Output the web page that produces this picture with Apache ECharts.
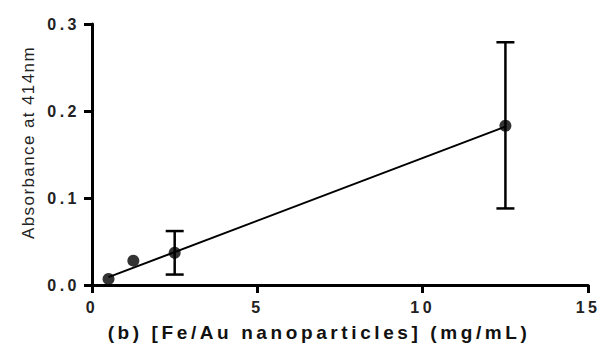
<!DOCTYPE html>
<html>
<head>
<meta charset="utf-8">
<script src="https://cdn.jsdelivr.net/npm/echarts@6/dist/echarts.min.js"></script>
<style>
  html, body { margin: 0; padding: 0; background: #fff; }
  #chart { width: 600px; height: 349px; }
</style>
</head>
<body>
<div id="chart"></div>
<script>
// Concentration (mg/mL) and mean absorbance at 414 nm
const concentration = [0.5, 1.25, 2.5, 12.5];
const absorbance = [0.007, 0.028, 0.037, 0.183];
// Error bar bounds (null where no bar is shown)
const errLow = [null, null, 0.012, 0.088];
const errHigh = [null, null, 0.062, 0.279];
// Linear fit drawn across the measured range
const fitX = [0.5, 12.5];
const fitY = [0.009, 0.182];
// Axis ticks
const xTicks = [0, 5, 10, 15];
const yTicks = [0.0, 0.1, 0.2, 0.3];

const xTitle = '(b) [Fe/Au nanoparticles] (mg/mL)';
const yTitle = 'Absorbance at 414nm';

const chart = echarts.init(document.getElementById('chart'), null, { renderer: 'svg' });
const font = 'Liberation Sans, Arial, Helvetica, sans-serif';

const errData = concentration
  .map((x, i) => [x, errLow[i], errHigh[i]])
  .filter(d => d[1] !== null);

chart.setOption({
  animation: false,
  backgroundColor: '#fff',
  grid: { left: 92, right: 10, top: 24, bottom: 64, containLabel: false },
  xAxis: {
    type: 'value',
    min: xTicks[0], max: xTicks[xTicks.length - 1], interval: 5,
    name: xTitle,
    nameLocation: 'middle', nameGap: 38,
    nameTextStyle: { fontFamily: font, fontSize: 19, fontWeight: 'bold', color: '#111', padding: [0, 42, 0, 0] },
    axisLine: { show: true, lineStyle: { color: '#000', width: 3 } },
    axisTick: { show: true, length: 8, lineStyle: { color: '#000', width: 3 } },
    axisLabel: { fontFamily: font, fontSize: 16, fontWeight: 'bold', color: '#222', margin: 14 },
    splitLine: { show: false }
  },
  yAxis: {
    type: 'value',
    min: yTicks[0], max: yTicks[yTicks.length - 1], interval: 0.1,
    name: yTitle,
    nameLocation: 'middle', nameGap: 55,
    nameTextStyle: { fontFamily: font, fontSize: 17, color: '#222', padding: [0, 0, 0, 24] },
    axisLine: { show: true, lineStyle: { color: '#000', width: 3 } },
    axisTick: { show: true, length: 8, lineStyle: { color: '#000', width: 3 } },
    axisLabel: {
      fontFamily: font, fontSize: 16, fontWeight: 'bold', color: '#222', margin: 12,
      formatter: v => v.toFixed(1)
    },
    splitLine: { show: false }
  },
  series: [
    {
      type: 'line',
      data: fitX.map((x, i) => [x, fitY[i]]),
      symbol: 'none',
      lineStyle: { color: '#000', width: 2 },
      z: 2
    },
    {
      type: 'custom',
      data: errData,
      renderItem: function (params, api) {
        const x = api.value(0);
        const lo = api.coord([x, api.value(1)]);
        const hi = api.coord([x, api.value(2)]);
        const cap = 9;
        const style = { stroke: '#000', lineWidth: 2.5 };
        return {
          type: 'group',
          children: [
            { type: 'line', shape: { x1: lo[0], y1: lo[1], x2: hi[0], y2: hi[1] }, style },
            { type: 'line', shape: { x1: lo[0] - cap, y1: lo[1], x2: lo[0] + cap, y2: lo[1] }, style },
            { type: 'line', shape: { x1: hi[0] - cap, y1: hi[1], x2: hi[0] + cap, y2: hi[1] }, style }
          ]
        };
      },
      z: 3
    },
    {
      type: 'scatter',
      data: concentration.map((x, i) => [x, absorbance[i]]),
      symbol: 'circle',
      symbolSize: 12,
      itemStyle: { color: '#000' },
      z: 4
    }
  ]
});

// Widen the letter spacing of the axis texts (typeset in a spaced style)
function spaceText() {
  chart.getDom().querySelectorAll('text').forEach(t => {
    const s = t.textContent;
    let sp = 3.5;
    if (s === xTitle) sp = 3.6;
    else if (s === yTitle) sp = 1.4;
    t.setAttribute('letter-spacing', sp + 'px');
  });
}
spaceText();
chart.on('finished', spaceText);
</script>
</body>
</html>
